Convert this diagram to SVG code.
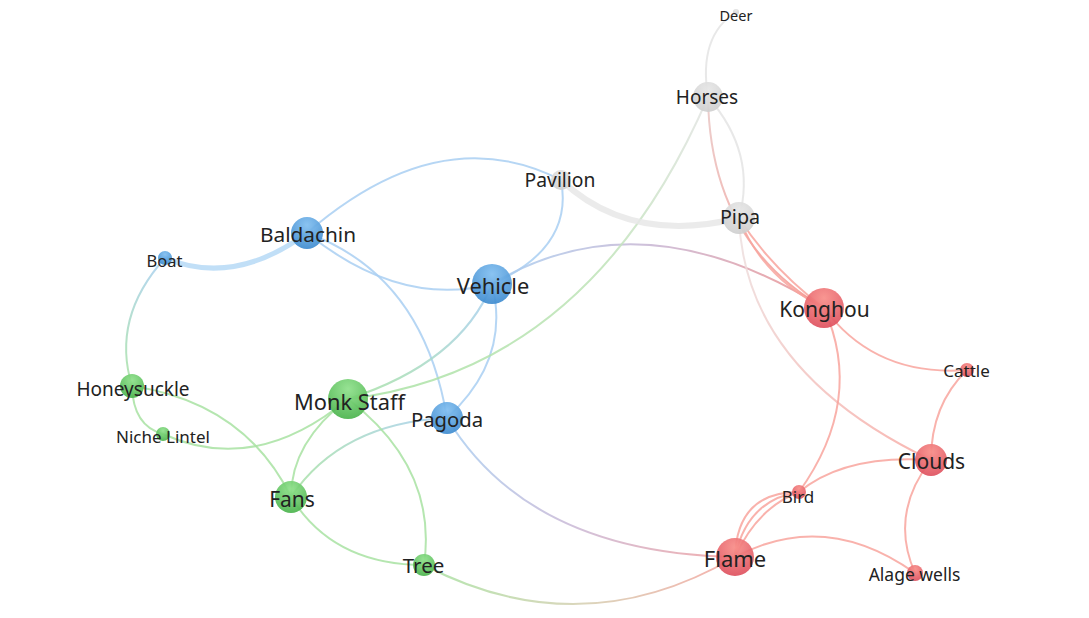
<svg xmlns="http://www.w3.org/2000/svg" width="1089" height="618" viewBox="0 0 1089 618">
<style>
.e{fill:none;stroke-width:2;stroke-linecap:round;opacity:0.85}
.b{stroke:#a9cff2}
.g{stroke:#a8e2a2}
.r{stroke:#f8a49e}
.y{stroke:#e4e4e4}
.lbl{font-family:"Noto Sans","Open Sans",sans-serif;fill:#222;text-anchor:middle}
.n{opacity:0.92}
</style>
<defs>
<radialGradient id="nb" cx="50%" cy="25%" r="75%"><stop offset="0" stop-color="#80bef0"/><stop offset="1" stop-color="#3e8bcf"/></radialGradient>
<radialGradient id="ng" cx="50%" cy="25%" r="75%"><stop offset="0" stop-color="#8ee08a"/><stop offset="1" stop-color="#4ab34c"/></radialGradient>
<radialGradient id="nr" cx="50%" cy="25%" r="75%"><stop offset="0" stop-color="#f88d88"/><stop offset="1" stop-color="#de505e"/></radialGradient>
<radialGradient id="ny" cx="50%" cy="25%" r="75%"><stop offset="0" stop-color="#e6e6e6"/><stop offset="1" stop-color="#cfcfcf"/></radialGradient>
<linearGradient id="gBoatHon" gradientUnits="userSpaceOnUse" x1="165" y1="258" x2="132" y2="386"><stop offset="0" stop-color="#a9cff2"/><stop offset="1" stop-color="#a8e2a2"/></linearGradient>
<linearGradient id="gVehMonk" gradientUnits="userSpaceOnUse" x1="492" y1="284" x2="348" y2="399"><stop offset="0" stop-color="#a9cff2"/><stop offset="1" stop-color="#a8e2a2"/></linearGradient>
<linearGradient id="gPagFans" gradientUnits="userSpaceOnUse" x1="447" y1="418" x2="291" y2="497"><stop offset="0" stop-color="#a9cff2"/><stop offset="1" stop-color="#a8e2a2"/></linearGradient>
<linearGradient id="gVehKong" gradientUnits="userSpaceOnUse" x1="492" y1="284" x2="824" y2="308"><stop offset="0" stop-color="#a9cff2"/><stop offset="0.5" stop-color="#c9b3d0"/><stop offset="1" stop-color="#f0908c"/></linearGradient>
<linearGradient id="gPagFlame" gradientUnits="userSpaceOnUse" x1="447" y1="418" x2="735" y2="557"><stop offset="0" stop-color="#a9cff2"/><stop offset="0.5" stop-color="#c9b8d6"/><stop offset="1" stop-color="#f0a0a0"/></linearGradient>
<linearGradient id="gTreeFlame" gradientUnits="userSpaceOnUse" x1="424" y1="565" x2="735" y2="557"><stop offset="0" stop-color="#a8e2a2"/><stop offset="0.5" stop-color="#d4cfb0"/><stop offset="1" stop-color="#f5a39e"/></linearGradient>
<linearGradient id="gMonkHorse" gradientUnits="userSpaceOnUse" x1="348" y1="399" x2="708" y2="97"><stop offset="0" stop-color="#a8e2a2"/><stop offset="0.6" stop-color="#bfe3b8"/><stop offset="1" stop-color="#e4e4e4"/></linearGradient>
<linearGradient id="gHorseKong" gradientUnits="userSpaceOnUse" x1="708" y1="97" x2="824" y2="308"><stop offset="0" stop-color="#e8c8c6"/><stop offset="1" stop-color="#f6928c"/></linearGradient>
<linearGradient id="gPipaClouds" gradientUnits="userSpaceOnUse" x1="739" y1="218" x2="931" y2="460"><stop offset="0" stop-color="#ece2e2"/><stop offset="1" stop-color="#f8aaa4"/></linearGradient>
</defs>
<g id="edges">
<path class="e b" style="stroke-width:5;stroke:#b6d9f6" d="M165,258 Q234,287 307,233"/>
<path class="e b" d="M307,233 Q440,118 561,180"/>
<path class="e b" d="M307,233 Q400,308 492,284"/>
<path class="e b" d="M307,233 Q423,275 447,418"/>
<path class="e b" d="M561,180 Q574,248 492,284"/>
<path class="e b" d="M492,284 Q511,359 447,418"/>
<path class="e" style="stroke:url(#gVehMonk)" d="M492,284 Q460,363 348,399"/>
<path class="e" style="stroke:url(#gVehKong)" d="M492,284 Q642,194 824,308"/>
<path class="e" style="stroke:url(#gBoatHon)" d="M165,258 Q111,318 132,386"/>
<path class="e" style="stroke:url(#gPagFans)" d="M447,418 Q341,423 291,497"/>
<path class="e" style="stroke:url(#gPagFlame)" d="M447,418 Q529,553 735,557"/>
<path class="e g" d="M132,386 Q133,426 163,434"/>
<path class="e g" d="M132,386 Q245,403 291,497"/>
<path class="e g" d="M163,434 Q255,476 348,399"/>
<path class="e g" d="M348,399 Q291,442 291,497"/>
<path class="e g" d="M348,399 Q438,468 424,565"/>
<path class="e" style="stroke:url(#gMonkHorse)" d="M348,399 Q590,370 708,97"/>
<path class="e g" d="M291,497 Q333,565 424,565"/>
<path class="e" style="stroke:url(#gTreeFlame)" d="M424,565 Q581,647 735,557"/>
<path class="e y" d="M736,12 Q698,36 708,97"/>
<path class="e y" d="M708,97 Q757,153 739,218"/>
<path class="e y" style="stroke-width:6;stroke:#e8e8e8" d="M561,180 Q630,245 739,218"/>
<path class="e" style="stroke:url(#gHorseKong)" d="M708,97 Q710,242 824,308"/>
<path class="e r" d="M739,218 Q762,277 824,308"/>
<path class="e r" d="M739,218 Q771,268 824,308"/>
<path class="e" style="stroke:url(#gPipaClouds)" d="M739,218 Q745,371 931,460"/>
<path class="e r" d="M824,308 Q875,377 967,370"/>
<path class="e r" d="M824,308 Q865,400 799,492"/>
<path class="e r" d="M967,370 Q931,405 931,460"/>
<path class="e r" d="M931,460 Q845,454 799,492"/>
<path class="e r" d="M931,460 Q889,514 915,573"/>
<path class="e r" d="M799,492 Q737,492 735,557"/>
<path class="e r" d="M799,492 Q747,500 735,557"/>
<path class="e r" d="M799,492 Q757,508 735,557"/>
<path class="e r" d="M735,557 Q825,509 915,573"/>
</g>
<g id="node-deer"><circle class="n" cx="736" cy="12" r="3" fill="url(#ny)"/><text class="lbl" x="736" y="21" font-size="14.5">Deer</text></g>
<g id="node-horses"><circle class="n" cx="708" cy="97" r="15" fill="url(#ny)"/><text class="lbl" x="707" y="104" font-size="19">Horses</text></g>
<g id="node-pavilion"><circle class="n" cx="561" cy="180" r="10" fill="url(#ny)"/><text class="lbl" x="560" y="187" font-size="19.3">Pavilion</text></g>
<g id="node-pipa"><circle class="n" cx="739" cy="218" r="16" fill="url(#ny)"/><text class="lbl" x="740" y="224" font-size="19.7">Pipa</text></g>
<g id="node-baldachin"><circle class="n" cx="307" cy="233" r="16" fill="url(#nb)"/><text class="lbl" x="308" y="241.5" font-size="20.8">Baldachin</text></g>
<g id="node-boat"><circle class="n" cx="165" cy="258" r="7" fill="url(#nb)"/><text class="lbl" x="164.5" y="266.5" font-size="16.5">Boat</text></g>
<g id="node-vehicle"><circle class="n" cx="492" cy="284" r="20" fill="url(#nb)"/><text class="lbl" x="493" y="294" font-size="21.8">Vehicle</text></g>
<g id="node-konghou"><circle class="n" cx="824" cy="308" r="20" fill="url(#nr)"/><text class="lbl" x="824.5" y="317" font-size="21">Konghou</text></g>
<g id="node-cattle"><circle class="n" cx="967" cy="370" r="7" fill="url(#nr)"/><text class="lbl" x="966.5" y="377.3" font-size="17">Cattle</text></g>
<g id="node-honeysuckle"><circle class="n" cx="132" cy="386" r="12" fill="url(#ng)"/><text class="lbl" x="133" y="395.5" font-size="19">Honeysuckle</text></g>
<g id="node-monkstaff"><circle class="n" cx="348" cy="399" r="20" fill="url(#ng)"/><text class="lbl" x="349.5" y="410" font-size="21.8">Monk Staff</text></g>
<g id="node-pagoda"><circle class="n" cx="447" cy="418" r="16" fill="url(#nb)"/><text class="lbl" x="447" y="427" font-size="20.3">Pagoda</text></g>
<g id="node-nichelintel"><circle class="n" cx="163" cy="434" r="7" fill="url(#ng)"/><text class="lbl" x="163" y="442.5" font-size="17">Niche Lintel</text></g>
<g id="node-clouds"><circle class="n" cx="931" cy="460" r="16" fill="url(#nr)"/><text class="lbl" x="931.5" y="469" font-size="21">Clouds</text></g>
<g id="node-fans"><circle class="n" cx="291" cy="497" r="16" fill="url(#ng)"/><text class="lbl" x="292" y="506.5" font-size="21">Fans</text></g>
<g id="node-bird"><circle class="n" cx="799" cy="492" r="7" fill="url(#nr)"/><text class="lbl" x="798" y="502.5" font-size="17">Bird</text></g>
<g id="node-flame"><circle class="n" cx="735" cy="557" r="19" fill="url(#nr)"/><text class="lbl" x="735" y="566.5" font-size="22">Flame</text></g>
<g id="node-tree"><circle class="n" cx="424" cy="565" r="11" fill="url(#ng)"/><text class="lbl" x="423.5" y="572.5" font-size="20.5">Tree</text></g>
<g id="node-alagewells"><circle class="n" cx="915" cy="573" r="8" fill="url(#nr)"/><text class="lbl" x="914.5" y="580.5" font-size="17.5">Alage wells</text></g>
</svg>
